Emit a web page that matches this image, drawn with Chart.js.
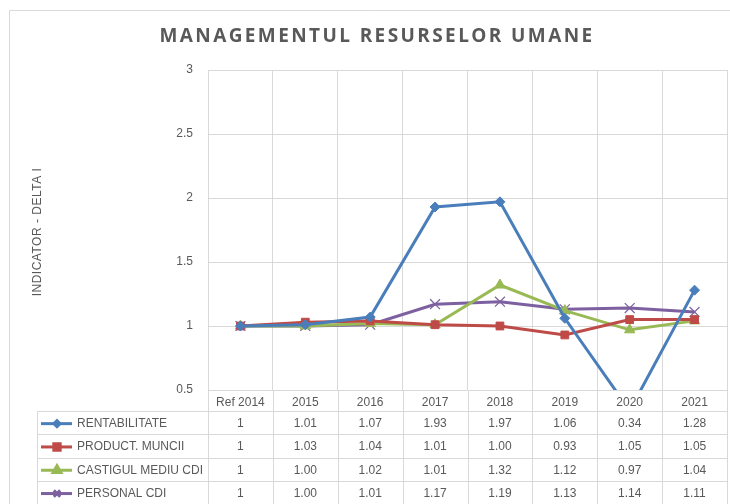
<!DOCTYPE html>
<html>
<head>
<meta charset="utf-8">
<script src="https://cdn.jsdelivr.net/npm/chart.js@4"></script>
<style>
  html, body { margin: 0; padding: 0; background: #fff; }
  #wrap { width: 730px; height: 504px; position: relative; }
</style>
</head>
<body>
<div id="wrap"><canvas id="myChart" width="730" height="504"></canvas></div>
<script>
  var labels = ["Ref 2014", "2015", "2016", "2017", "2018", "2019", "2020", "2021"];
  var yTicks = [0.5, 1, 1.5, 2, 2.5, 3];

  var rentabilitate = [1, 1.01, 1.07, 1.93, 1.97, 1.06, 0.34, 1.28];
  var productMuncii = [1, 1.03, 1.04, 1.01, 1.00, 0.93, 1.05, 1.05];
  var castigulMediu = [1, 1.00, 1.02, 1.01, 1.32, 1.12, 0.97, 1.04];
  var personalCdi = [1, 1.00, 1.01, 1.17, 1.19, 1.13, 1.14, 1.11];

  var seriesNames = ["RENTABILITATE", "PRODUCT. MUNCII", "CASTIGUL MEDIU CDI", "PERSONAL CDI"];

  var FONT = "'Liberation Sans', Arial, sans-serif";
  var GRID = "#d9d9d9";

  function makeSet(name, data, color, style, radius) {
    return {
      label: name,
      data: data,
      borderColor: color,
      backgroundColor: color,
      borderWidth: 3,
      pointStyle: style,
      pointRadius: radius,
      pointBorderWidth: style === "crossRot" ? 1.2 : 1,
      tension: 0,
      fill: false,
    };
  }

  // table + title + axis title drawn on top
  var tablePlugin = {
    id: "tablePlugin",
    afterDraw: function (chart) {
      var ctx = chart.ctx;
      var x = chart.scales.x;
      var area = chart.chartArea;
      var half = (x.getPixelForValue(1) - x.getPixelForValue(0)) / 2;
      var bounds = [];
      for (var i = 0; i <= labels.length; i++) {
        bounds.push(x.getPixelForValue(0) - half + i * half * 2);
      }
      ctx.save();
      // chart border
      ctx.strokeStyle = GRID;
      ctx.lineWidth = 1;
      ctx.beginPath();
      ctx.moveTo(9.5, 504);
      ctx.lineTo(9.5, 10.5);
      ctx.lineTo(730, 10.5);
      ctx.stroke();

      // title
      ctx.fillStyle = "#595959";
      ctx.font = "bold 19px 'Open Sans', 'Liberation Sans', sans-serif";
      ctx.letterSpacing = "2.4px";
      ctx.textAlign = "center";
      ctx.textBaseline = "middle";
      ctx.fillText("MANAGEMENTUL RESURSELOR UMANE", 377, 37);
      ctx.letterSpacing = "0px";

      // y axis title
      ctx.save();
      ctx.translate(38, 232);
      ctx.rotate(-Math.PI / 2);
      ctx.font = "12px 'Liberation Sans', sans-serif";
      ctx.fillStyle = "#595959";
      ctx.letterSpacing = "0.5px";
      ctx.fillText("INDICATOR - DELTA I", 0, 0);
      ctx.letterSpacing = "0px";
      ctx.restore();

      // table grid
      var headTop = area.bottom;
      var rowTop = 411;
      var rowH = 23.3;
      var bottom = 504;
      ctx.strokeStyle = GRID;
      ctx.beginPath();
      bounds.forEach(function (b) {
        var bx = Math.round(b) + 0.5;
        ctx.moveTo(bx, headTop);
        ctx.lineTo(bx, bottom);
      });
      ctx.moveTo(37.5, rowTop);
      ctx.lineTo(37.5, bottom);
      for (var r = 0; r < 4; r++) {
        var yy = Math.round(rowTop + r * rowH) + 0.5;
        ctx.moveTo(37, yy);
        ctx.lineTo(bounds[bounds.length - 1], yy);
      }
      ctx.stroke();

      // rows
      chart.data.datasets.forEach(function (ds, r) {
        var cy = rowTop + r * rowH + rowH / 2 + 1;
        // legend key
        ctx.strokeStyle = ds.borderColor;
        ctx.lineWidth = 3;
        ctx.beginPath();
        ctx.moveTo(41, cy);
        ctx.lineTo(72, cy);
        ctx.stroke();
        ctx.fillStyle = ds.borderColor;
        Chart.helpers.drawPoint(ctx, {
          pointStyle: ds.pointStyle,
          radius: ds.pointStyle === "rectRot" ? 3 : 4.5,
          borderWidth: 1.2,
          rotation: 0,
        }, 57, cy);
        ctx.fillStyle = "#595959";
        ctx.font = "12px " + FONT;
        ctx.textAlign = "left";
        ctx.fillText(seriesNames[r], 77, cy);
        ctx.textAlign = "center";
        ds.data.forEach(function (v, i) {
          var txt = i === 0 ? String(v) : v.toFixed(2);
          ctx.fillText(txt, x.getPixelForValue(i), cy);
        });
      });
      ctx.restore();
    },
  };

  var ctx = document.getElementById("myChart").getContext("2d");
  var chart1 = new Chart(ctx, {
    type: "line",
    data: {
      labels: labels,
      datasets: [
        makeSet(seriesNames[0], rentabilitate, "#4a7ebb", "rectRot", 5),
        makeSet(seriesNames[1], productMuncii, "#be4b48", "rect", 5.5),
        makeSet(seriesNames[2], castigulMediu, "#98b954", "triangle", 6),
        makeSet(seriesNames[3], personalCdi, "#7d60a0", "crossRot", 7),
      ],
    },
    options: {
      responsive: false,
      animation: false,
      layout: { autoPadding: false, padding: { top: 70, right: 3, left: 0, bottom: 0 } },
      plugins: {
        legend: { display: false },
        title: { display: false },
        tooltip: { enabled: false },
      },
      scales: {
        x: {
          offset: true,
          grid: { offset: true, color: GRID, drawTicks: false },
          border: { display: false },
          ticks: {
            color: "#595959",
            font: { family: FONT, size: 12 },
            padding: 5,
            maxRotation: 0,
          },
          afterFit: function (scale) { scale.height = 114; },
        },
        y: {
          min: 0.5,
          max: 3,
          grid: { color: GRID, drawTicks: false },
          border: { display: false },
          afterBuildTicks: function (scale) {
            scale.ticks = yTicks.map(function (v) { return { value: v }; });
          },
          ticks: {
            color: "#595959",
            font: { family: FONT, size: 12 },
            padding: 15,
            callback: function (v) { return String(v); },
          },
          afterFit: function (scale) { scale.width = 208; },
        },
      },
    },
    plugins: [tablePlugin],
  });
</script>
</body>
</html>
